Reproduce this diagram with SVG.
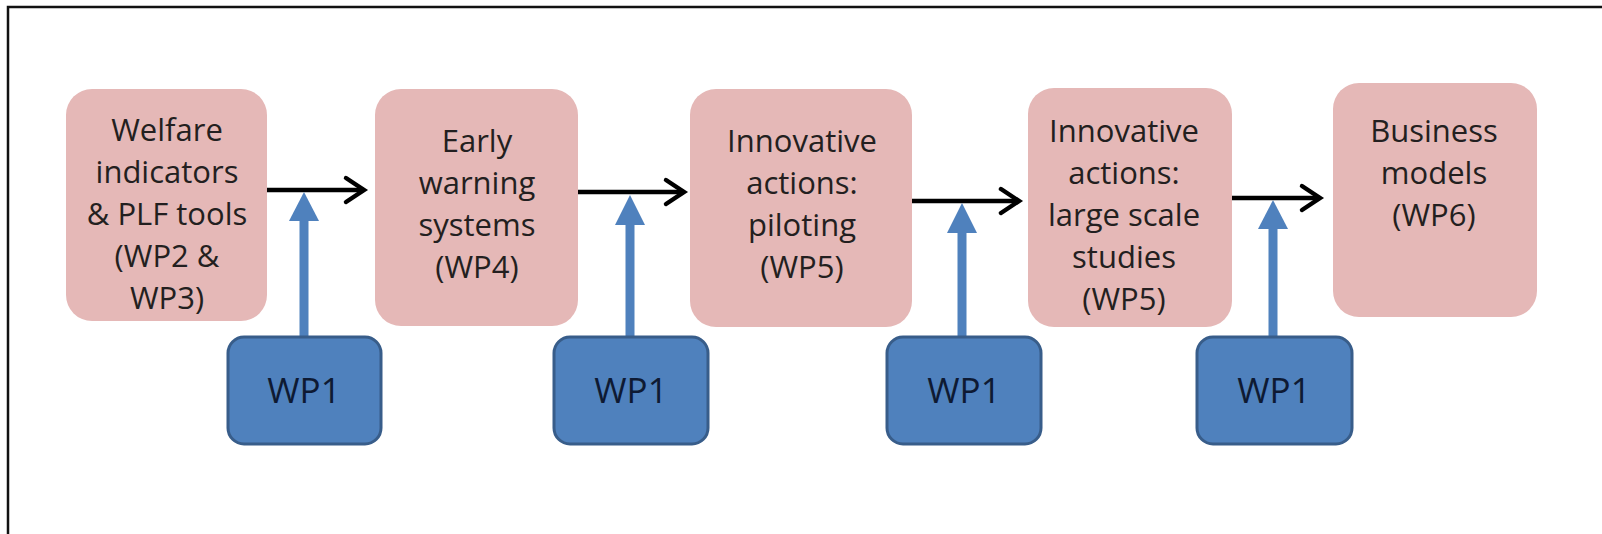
<svg xmlns="http://www.w3.org/2000/svg" width="1602" height="534" viewBox="0 0 1602 534">
<style>
.stage{fill:#E5B8B7;}
.lbl{font-family:"Open Sans","Liberation Sans",sans-serif;font-size:31px;fill:#231F20;text-anchor:middle;}
.wp{fill:#4F81BD;stroke:#385D8A;stroke-width:3;}
.wpt{font-family:"Open Sans","Liberation Sans",sans-serif;font-size:35px;fill:#0E1A33;text-anchor:middle;}
.flow{stroke:#000;stroke-width:4.5;fill:none;}
.head{stroke:#000;stroke-width:4.5;fill:none;stroke-linecap:round;stroke-linejoin:miter;}
.shaft{stroke:#4F81BD;stroke-width:9;fill:none;}
.bhead{fill:#4F81BD;}
</style>
<rect x="0" y="0" width="1602" height="534" fill="#fff"/>
<path d="M8,534 V7 H1602" fill="none" stroke="#111" stroke-width="2.5"/>

<g id="n1">
<rect class="stage" x="66" y="89" width="201" height="232" rx="26"/>
<text class="lbl" x="167" y="141">Welfare</text>
<text class="lbl" x="167" y="183">indicators</text>
<text class="lbl" x="167" y="225">&amp; PLF tools</text>
<text class="lbl" x="167" y="267">(WP2 &amp;</text>
<text class="lbl" x="167" y="309">WP3)</text>
</g>
<g id="n2">
<rect class="stage" x="375" y="89" width="203" height="237" rx="26"/>
<text class="lbl" x="477" y="152">Early</text>
<text class="lbl" x="477" y="194">warning</text>
<text class="lbl" x="477" y="236">systems</text>
<text class="lbl" x="477" y="278">(WP4)</text>
</g>
<g id="n3">
<rect class="stage" x="690" y="89" width="222" height="238" rx="26"/>
<text class="lbl" x="802" y="152">Innovative</text>
<text class="lbl" x="802" y="194">actions:</text>
<text class="lbl" x="802" y="236">piloting</text>
<text class="lbl" x="802" y="278">(WP5)</text>
</g>
<g id="n4">
<rect class="stage" x="1028" y="88" width="204" height="239" rx="26"/>
<text class="lbl" x="1124" y="142">Innovative</text>
<text class="lbl" x="1124" y="184">actions:</text>
<text class="lbl" x="1124" y="226">large scale</text>
<text class="lbl" x="1124" y="268">studies</text>
<text class="lbl" x="1124" y="310">(WP5)</text>
</g>
<g id="n5">
<rect class="stage" x="1333" y="83" width="204" height="234" rx="26"/>
<text class="lbl" x="1434" y="142">Business</text>
<text class="lbl" x="1434" y="184">models</text>
<text class="lbl" x="1434" y="226">(WP6)</text>
</g>

<g id="connectors">
<line class="flow" x1="267" y1="190" x2="364" y2="190"/>
<polyline class="head" points="346,178 364,190 346,202"/>
<line class="flow" x1="578" y1="192" x2="684" y2="192"/>
<polyline class="head" points="666,180 684,192 666,204"/>
<line class="flow" x1="912" y1="201" x2="1019" y2="201"/>
<polyline class="head" points="1001,189 1019,201 1001,213"/>
<line class="flow" x1="1232" y1="198" x2="1320" y2="198"/>
<polyline class="head" points="1302,186 1320,198 1302,210"/>

<line class="shaft" x1="304" y1="337" x2="304" y2="218"/>
<polygon class="bhead" points="304,192 289,221 319,221"/>
<line class="shaft" x1="630" y1="337" x2="630" y2="222"/>
<polygon class="bhead" points="630,195 615,225 645,225"/>
<line class="shaft" x1="962" y1="337" x2="962" y2="230"/>
<polygon class="bhead" points="962,203 947,233 977,233"/>
<line class="shaft" x1="1273" y1="337" x2="1273" y2="228"/>
<polygon class="bhead" points="1273,200 1258,229 1288,229"/>
</g>

<g id="wp1a">
<rect class="wp" x="228" y="337" width="153" height="107" rx="16"/>
<text class="wpt" x="304" y="403">WP1</text>
</g>
<g id="wp1b">
<rect class="wp" x="554" y="337" width="154" height="107" rx="16"/>
<text class="wpt" x="631" y="403">WP1</text>
</g>
<g id="wp1c">
<rect class="wp" x="887" y="337" width="154" height="107" rx="16"/>
<text class="wpt" x="964" y="403">WP1</text>
</g>
<g id="wp1d">
<rect class="wp" x="1197" y="337" width="155" height="107" rx="16"/>
<text class="wpt" x="1274" y="403">WP1</text>
</g>
</svg>
